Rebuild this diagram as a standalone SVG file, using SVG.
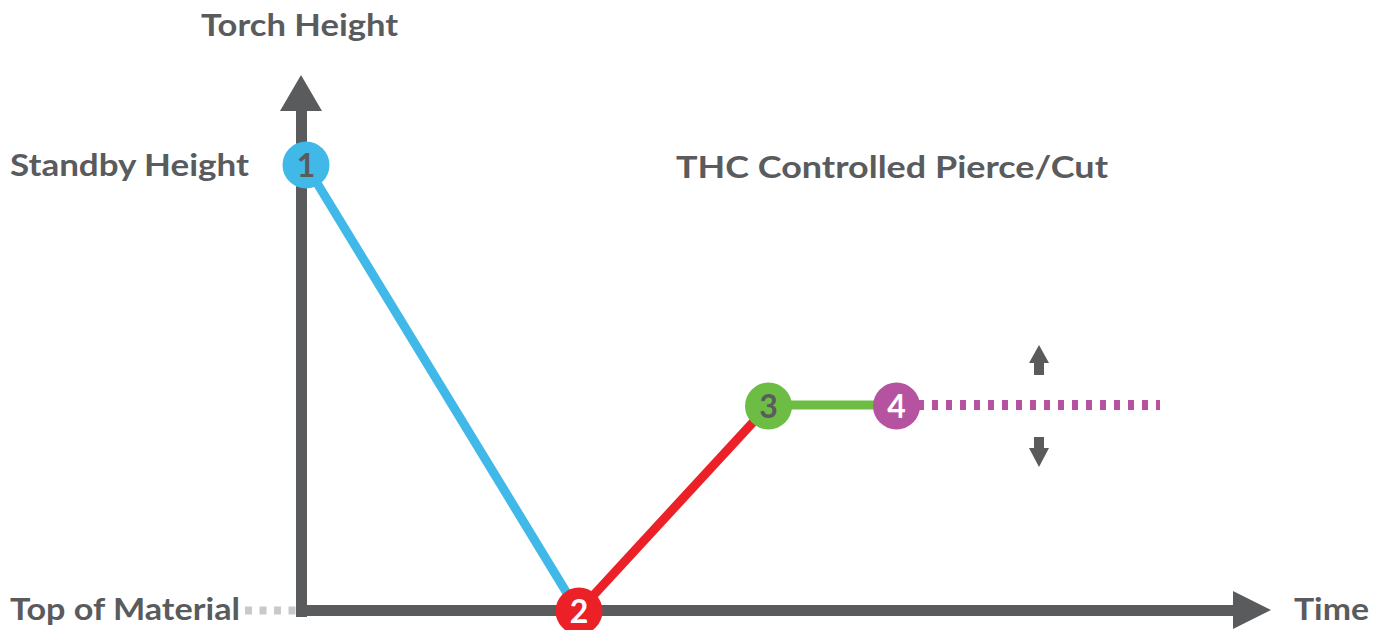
<svg xmlns="http://www.w3.org/2000/svg" width="1386" height="630" viewBox="0 0 1386 630">
  <style>
    .lbl { font-family: "Lato", "Open Sans", "Liberation Sans", sans-serif; font-weight: 700; fill: #5a5b5d; font-size: 31px; }
    .num { font-family: "Lato", "Open Sans", "Liberation Sans", sans-serif; font-weight: 700; font-size: 32px; text-anchor: middle; }
    .axis { fill: #5a5b5d; }
  </style>
  <rect width="1386" height="630" fill="#ffffff"/>

  <!-- axes -->
  <g id="axes" class="axis">
    <rect x="296" y="108" width="11" height="509"/>
    <polygon points="280,111 322,111 301,75"/>
    <rect x="296" y="605" width="940" height="11"/>
    <polygon points="1233,591 1233,629 1271,610"/>
    <line x1="245" y1="610.5" x2="296" y2="610.5" stroke="#c8c9cb" stroke-width="8" stroke-dasharray="7 7.5"/>
  </g>

  <!-- axis labels -->
  <g id="labels">
    <text class="lbl" x="201" y="36" textLength="197" lengthAdjust="spacingAndGlyphs">Torch Height</text>
    <text class="lbl" x="10" y="176" textLength="239" lengthAdjust="spacingAndGlyphs">Standby Height</text>
    <text class="lbl" x="676" y="178" textLength="432" lengthAdjust="spacingAndGlyphs">THC Controlled Pierce/Cut</text>
    <text class="lbl" x="10" y="620" textLength="230" lengthAdjust="spacingAndGlyphs">Top of Material</text>
    <text class="lbl" x="1294" y="620" textLength="75" lengthAdjust="spacingAndGlyphs">Time</text>
  </g>

  <!-- connectors -->
  <g id="connectors" stroke-width="9" fill="none">
    <line x1="306" y1="165" x2="576" y2="608" stroke="#40b9e9"/>
    <line x1="579" y1="611" x2="768" y2="406" stroke="#ec2027"/>
    <line x1="768" y1="405" x2="896" y2="405" stroke="#6dbd45"/>
    <line x1="918" y1="405" x2="1160" y2="405" stroke="#b653a1" stroke-width="10" stroke-dasharray="6 8"/>
  </g>

  <!-- adjustment arrows -->
  <g id="adjust" class="axis">
    <polygon points="1034,375 1044,375 1044,363 1049,363 1039,345 1029,363 1034,363"/>
    <polygon points="1034,437 1044,437 1044,448 1049,448 1039,467 1029,448 1034,448"/>
  </g>

  <!-- points -->
  <g id="node1">
    <circle cx="306" cy="165" r="23.5" fill="#40b9e9"/>
    <text class="num" x="306" y="177" fill="#5a5b5d">1</text>
  </g>
  <g id="node2">
    <circle cx="579" cy="611" r="23.5" fill="#ec2027"/>
    <text class="num" x="579" y="623" fill="#ffffff">2</text>
  </g>
  <g id="node3">
    <circle cx="768.5" cy="406" r="23.5" fill="#6dbd45"/>
    <text class="num" x="768.5" y="418" fill="#5a5b5d">3</text>
  </g>
  <g id="node4">
    <circle cx="896.5" cy="406" r="23.5" fill="#b653a1"/>
    <text class="num" x="896.5" y="418" fill="#ffffff">4</text>
  </g>
</svg>
